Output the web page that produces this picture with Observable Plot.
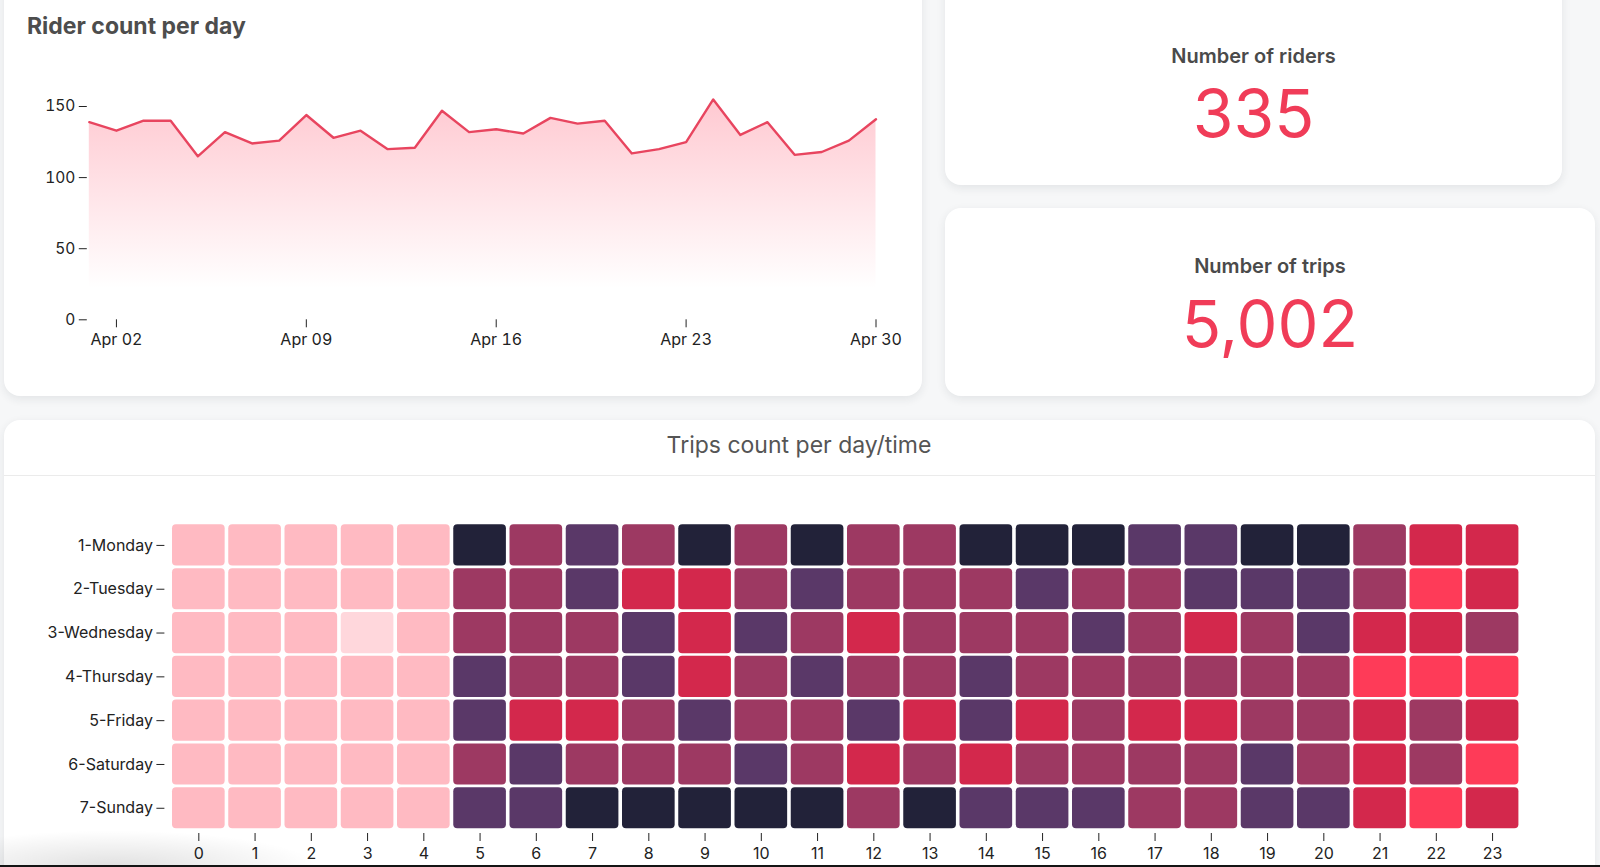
<!DOCTYPE html>
<html>
<head>
<meta charset="utf-8">
<script src="https://cdn.jsdelivr.net/npm/d3@7"></script>
<script src="https://cdn.jsdelivr.net/npm/@observablehq/plot@0.6"></script>
<style>
  html, body { margin: 0; padding: 0; }
  body { width: 1600px; height: 867px; overflow: hidden; position: relative; background: #f6f7f8; font-family: Inter, "Noto Sans", sans-serif; }
  .card { position: absolute; background: #fff; border-radius: 16px; box-shadow: 0 3px 10px rgba(30, 40, 60, 0.09); }
  .abs { position: absolute; }
  .title { position: absolute; line-height: 1; white-space: nowrap; }
  .kpi-label { position: absolute; left: 0; right: 0; text-align: center; font-size: 20px; font-weight: 600; color: #4a4a4a; line-height: 1; }
  .kpi-value { position: absolute; left: 0; right: 0; text-align: center; font-weight: 400; color: #f03c58; line-height: 1; }
</style>
</head>
<body>
  <div class="card" style="left:4px; top:-30px; width:918px; height:426px;"></div>
  <div class="card" style="left:945px; top:-30px; width:617px; height:215px;">
    <div class="kpi-label" style="top:75.5px;">Number of riders</div>
    <div class="kpi-value" style="top:110px; font-size:66px;">335</div>
  </div>
  <div class="card" style="left:945px; top:208px; width:650px; height:188px;">
    <div class="kpi-label" style="top:47.5px;">Number of trips</div>
    <div class="kpi-value" style="top:82.5px; font-size:65px;">5,002</div>
  </div>
  <div class="card" style="left:4px; top:420px; width:1591px; height:480px;">
    <div style="position:absolute; left:0; right:0; top:55px; height:1px; background:#ebebeb;"></div>
  </div>
  <div class="title" style="left:27px; top:14.5px; font-size:23px; font-weight:700; color:#4d4d4d;">Rider count per day</div>
  <div class="title" style="left:0; width:1598px; text-align:center; top:434px; font-size:23px; font-weight:400; color:#555;">Trips count per day/time</div>
  <div id="line" class="abs" style="left:20px; top:60px;"></div>
  <div id="heat" class="abs" style="left:0px; top:480px;"></div>
  <div class="abs" style="left:0; top:830px; width:320px; height:37px; background:radial-gradient(ellipse at 35% 100%, rgba(0,0,0,0.12), rgba(0,0,0,0) 70%);"></div>
  <div class="abs" style="left:0; top:865px; width:1600px; height:2px; background:#141414;"></div>

<script>
// ---- Rider count per day ----
const dates = [
  "2023-04-01","2023-04-02","2023-04-03","2023-04-04","2023-04-05","2023-04-06",
  "2023-04-07","2023-04-08","2023-04-09","2023-04-10","2023-04-11","2023-04-12",
  "2023-04-13","2023-04-14","2023-04-15","2023-04-16","2023-04-17","2023-04-18",
  "2023-04-19","2023-04-20","2023-04-21","2023-04-22","2023-04-23","2023-04-24",
  "2023-04-25","2023-04-26","2023-04-27","2023-04-28","2023-04-29","2023-04-30"
];
const riders = [139,133,140,140,115,132,124,126,144,128,133,120,121,147,132,134,131,142,138,140,117,120,125,155,130,139,116,118,126,141];
const dateTicks = ["2023-04-02","2023-04-09","2023-04-16","2023-04-23","2023-04-30"];
const riderTicks = [0, 50, 100, 150];

// ---- Trips count per day/time ----
const days = ["1-Monday","2-Tuesday","3-Wednesday","4-Thursday","5-Friday","6-Saturday","7-Sunday"];
const hours = [0,1,2,3,4,5,6,7,8,9,10,11,12,13,14,15,16,17,18,19,20,21,22,23];
const monday    = [3,3,3,3,3,46,36,41,36,46,36,46,36,36,46,46,46,41,41,46,46,36,31,31];
const tuesday   = [3,3,3,3,3,36,36,41,31,31,36,41,36,36,36,41,36,36,41,41,41,36,26,31];
const wednesday = [3,3,3,1,3,36,36,36,41,31,41,36,31,36,36,36,41,36,31,36,41,31,31,36];
const thursday  = [3,3,3,3,3,41,36,36,41,31,36,41,36,36,41,36,36,36,36,36,36,26,26,26];
const friday    = [3,3,3,3,3,41,31,31,36,41,36,36,41,31,41,31,36,31,31,36,36,31,36,31];
const saturday  = [3,3,3,3,3,36,41,36,36,36,41,36,31,36,31,36,36,36,36,41,36,31,36,26];
const sunday    = [3,3,3,3,3,41,41,46,46,46,46,46,36,46,41,41,41,36,36,41,41,31,26,31];
const tripRows = [monday, tuesday, wednesday, thursday, friday, saturday, sunday];
const colorThresholds = [2, 10, 28, 33, 38, 43];
const colorRange = ["#ffd7dc","#ffbac2","#fe3b58","#d3284c","#9d3962","#5a3868","#222239"];

const riderData = dates.map((d, i) => ({date: new Date(d), riders: riders[i]}));
const tripData = [];
days.forEach((day, i) => hours.forEach((h, j) => tripData.push({day, hour: h, count: tripRows[i][j]})));

const lineChart = Plot.plot({
  width: 880,
  height: 300,
  marginLeft: 66.8,
  marginRight: 24.5,
  marginTop: 38.9,
  marginBottom: 40.7,
  style: {fontFamily: "Inter, 'Noto Sans', sans-serif", fontSize: "15px", color: "#222", background: "transparent", overflow: "visible"},
  x: {type: "utc", insetLeft: 2, label: null},
  y: {label: null},
  marks: [
    Plot.areaY(riderData, {x: "date", y: "riders", fill: "url(#riderGrad)"}),
    Plot.lineY(riderData, {x: "date", y: "riders", stroke: "#e8455f", strokeWidth: 2.4}),
    Plot.axisX({ticks: dateTicks.map(d => new Date(d)), tickFormat: d3.utcFormat("%b %d"), tickSize: 8, tickPadding: 6, fontSize: 16}),
    Plot.axisY({ticks: riderTicks, tickSize: 8, tickPadding: 4, fontSize: 15.5})
  ]
});
const defs = d3.select(lineChart).insert("defs", ":first-child");
const grad = defs.append("linearGradient").attr("id", "riderGrad").attr("x1", 0).attr("y1", 0).attr("x2", 0).attr("y2", 1);
grad.append("stop").attr("offset", 0).attr("stop-color", "#ff3d5a").attr("stop-opacity", 0.28);
grad.append("stop").attr("offset", 0.86).attr("stop-color", "#ff3d5a").attr("stop-opacity", 0);
document.getElementById("line").appendChild(lineChart);

const heat = Plot.plot({
  width: 1600,
  height: 387,
  marginLeft: 164.4,
  marginRight: 78,
  marginTop: 41.7,
  marginBottom: 34,
  style: {fontFamily: "Inter, 'Noto Sans', sans-serif", fontSize: "16px", color: "#222", background: "transparent", overflow: "visible"},
  x: {type: "band", domain: hours, padding: 0.064, round: false, insetLeft: 4, label: null},
  y: {type: "band", domain: days, padding: 0.06, round: false, insetBottom: 2, label: null},
  color: {type: "threshold", domain: colorThresholds, range: colorRange},
  marks: [
    Plot.cell(tripData, {x: "hour", y: "day", fill: "count", inset: 0, rx: 4}),
    Plot.axisX({tickSize: 8, tickPadding: 6, fontSize: 16}),
    Plot.axisY({tickSize: 8, tickPadding: 4, fontSize: 16})
  ]
});
document.getElementById("heat").appendChild(heat);
</script>
</body>
</html>
